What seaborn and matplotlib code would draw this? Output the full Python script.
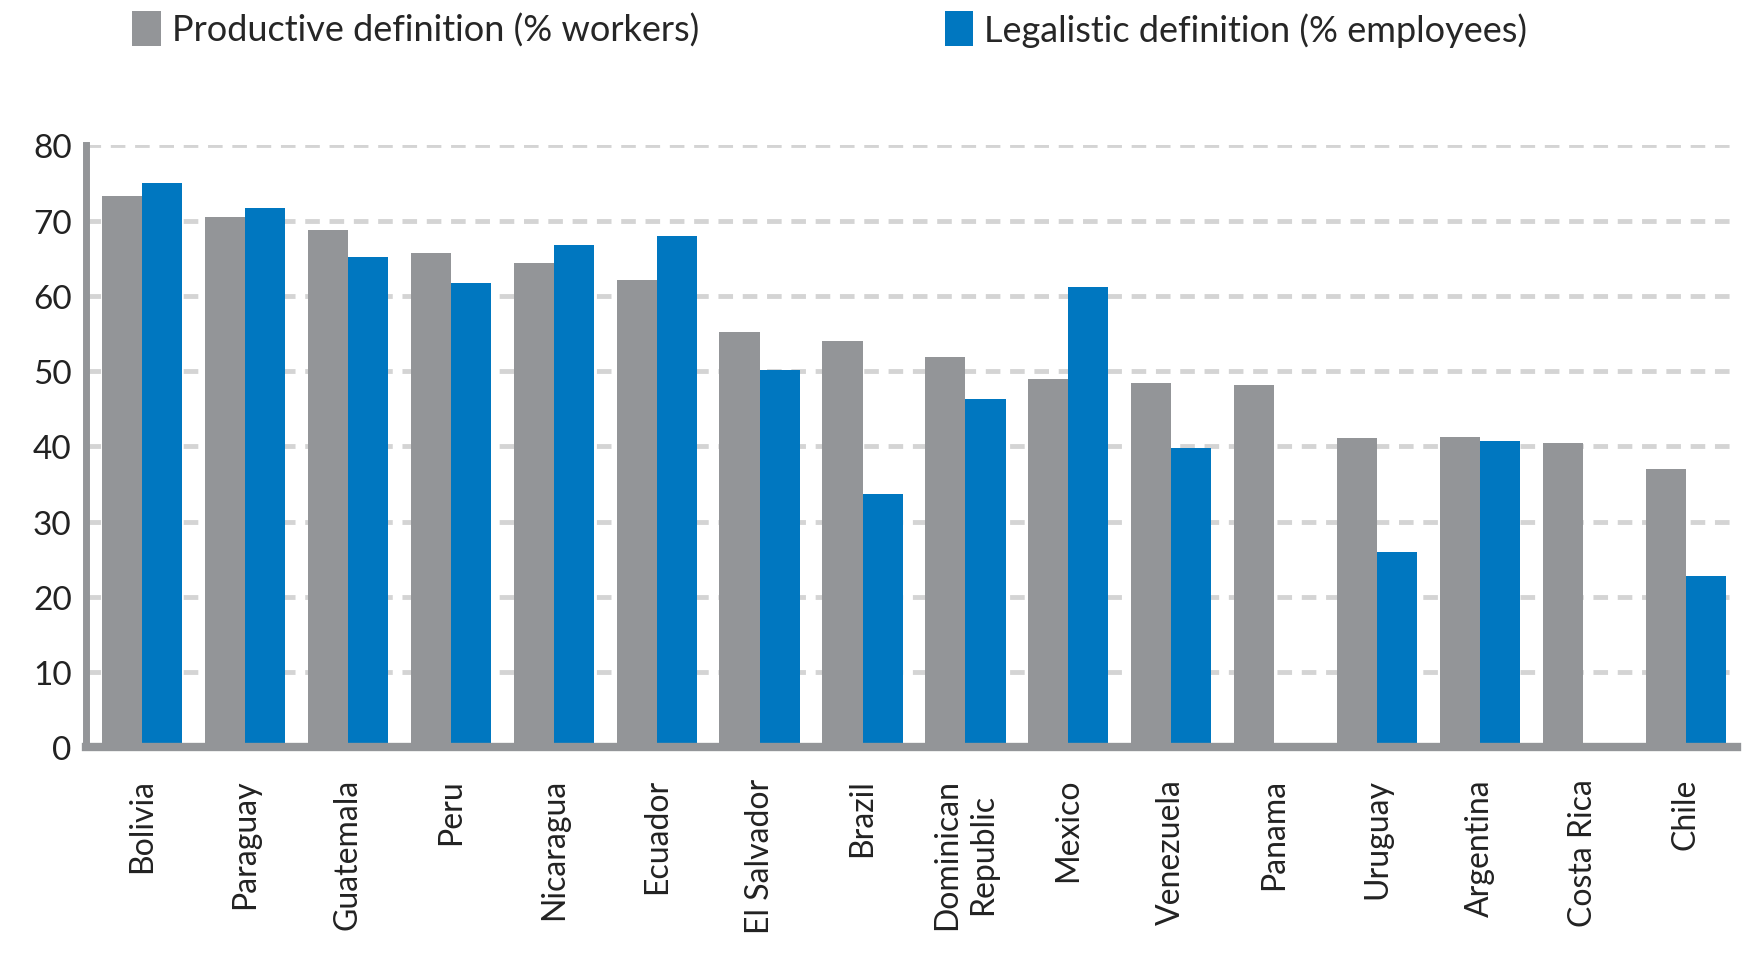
import numpy as np
import pandas as pd
import matplotlib
matplotlib.use("Agg")
import matplotlib.pyplot as plt
import seaborn as sns
from matplotlib.patches import Patch
from matplotlib.ticker import FixedLocator

countries = ["Bolivia", "Paraguay", "Guatemala", "Peru", "Nicaragua", "Ecuador",
             "El Salvador", "Brazil", "Dominican\nRepublic", "Mexico", "Venezuela",
             "Panama", "Uruguay", "Argentina", "Costa Rica", "Chile"]
productive = [73.2, 70.4, 68.8, 65.7, 64.3, 62.1, 55.2, 54.0, 51.9, 49.0, 48.4,
              48.1, 41.1, 41.3, 40.4, 37.0]
legalistic = [75.0, 71.7, 65.1, 61.7, 66.7, 67.9, 50.1, 33.7, 46.3, 61.1, 39.8,
              np.nan, 26.0, 40.7, np.nan, 22.8]
series_names = ["Productive definition (% workers)", "Legalistic definition (% employees)"]
colors = ["#939598", "#0077c0"]
yticks = [0, 10, 20, 30, 40, 50, 60, 70, 80]

df = pd.DataFrame({
    "country": countries * 2,
    "value": productive + legalistic,
    "series": [series_names[0]] * len(countries) + [series_names[1]] * len(countries),
})

sns.set_style("white")
plt.rcParams["font.family"] = ["Lato", "DejaVu Sans"]

fig = plt.figure(figsize=(17.46, 9.62), dpi=100)
ax = fig.add_axes([0.049, 0.222, 0.946, 0.626])

sns.barplot(data=df, x="country", y="value", hue="series", order=countries,
            hue_order=series_names, palette=colors, width=0.78, gap=0,
            saturation=1, legend=False, linewidth=0, ax=ax)

ax.set_xlim(-0.55, len(countries) - 0.5)
ax.set_ylim(0, 80)
ax.set_yticks(yticks)
ax.set_yticklabels([str(v) for v in yticks], fontsize=24, color="#222222")
ax.set_xlabel("")
ax.set_ylabel("")
ax.set_xticks(range(len(countries)))
ax.set_xticklabels(countries, rotation=90, fontsize=23, color="#222222",
                   va="top", ha="center", linespacing=1.25)
ax.tick_params(axis="x", which="major", length=0, pad=22)
ax.xaxis.set_minor_locator(FixedLocator(np.arange(-0.5, len(countries), 1.0)))
ax.tick_params(axis="x", which="minor", length=10, width=1.5, color="#939598",
               direction="out")
ax.tick_params(axis="y", length=6, width=1.5, color="#939598", pad=4)

ax.yaxis.grid(True, linestyle=(0, (3, 2)), linewidth=3.5, color="#d4d4d4")
ax.set_axisbelow(True)

for s in ["top", "right"]:
    ax.spines[s].set_visible(False)
ax.spines["left"].set_color("#939598")
ax.spines["left"].set_linewidth(5)
ax.spines["bottom"].set_color("#939598")
ax.spines["bottom"].set_linewidth(6)

handles = [Patch(facecolor=c, edgecolor="none") for c in colors]
fig.legend(handles, series_names, loc="upper left", bbox_to_anchor=(0.057, 1.021),
           ncol=2, frameon=False, fontsize=26, handlelength=0.8, handleheight=1.1,
           handletextpad=0.3, columnspacing=6.8)

fig.savefig("out.png", dpi=100, facecolor="white")
